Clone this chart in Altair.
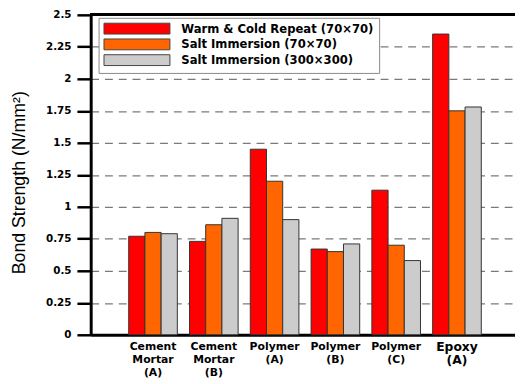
import altair as alt
import pandas as pd

categories = ["Cement Mortar (A)", "Cement Mortar (B)", "Polymer (A)",
              "Polymer (B)", "Polymer (C)", "Epoxy (A)"]
series_names = ["Warm & Cold Repeat (70×70)", "Salt Immersion (70×70)",
                "Salt Immersion (300×300)"]
warm_cold_70 = [0.77, 0.73, 1.45, 0.67, 1.13, 2.35]
salt_70 = [0.80, 0.86, 1.20, 0.65, 0.70, 1.75]
salt_300 = [0.79, 0.91, 0.90, 0.71, 0.58, 1.78]
y_ticks = [0, 0.25, 0.5, 0.75, 1, 1.25, 1.5, 1.75, 2, 2.25, 2.5]
colors = ["#FF0000", "#FF6600", "#CCCCCC"]

rows = []
for s, vals in zip(series_names, [warm_cold_70, salt_70, salt_300]):
    for c, v in zip(categories, vals):
        rows.append({"Material": c, "Series": s, "Value": v})
df = pd.DataFrame(rows)

y_scale = alt.Scale(domain=[0, 2.5], nice=False)
y_axis = alt.Axis(title="Bond Strength (N/mm²)", values=y_ticks,
                  format=".3~g", grid=True, gridDash=[8, 6],
                  gridColor="#7a7a7a", gridWidth=1.3,
                  labelOverlap=False,
                  domainColor="black", domainWidth=3,
                  tickColor="black", tickWidth=2.5, tickSize=14,
                  labelFont="DejaVu Sans", labelFontWeight="bold",
                  labelFontSize=10.5, labelColor="black", labelPadding=6,
                  titleFont="Liberation Sans", titleFontWeight="normal",
                  titleFontSize=18, titleColor="black",
                  titleX=-72, titleY=170, titleAngle=270,
                  titleAlign="center", titleBaseline="middle")

bars = alt.Chart(df).mark_bar(stroke="#333333", strokeWidth=1).encode(
    x=alt.X("Material:N", sort=categories,
            scale=alt.Scale(paddingInner=0.2, paddingOuter=0.59, align=0.53),
            axis=alt.Axis(title=None, labelAngle=0, ticks=False,
                          domainColor="black", domainWidth=3,
                          labelExpr="split(datum.label, ' ')",
                          labelFont="DejaVu Sans", labelFontWeight="bold",
                          labelFontSize={"condition": {"test": "datum.value == 'Epoxy (A)'", "value": 12.5}, "value": 11},
                          labelLineHeight=13, labelPadding=6,
                          labelBaseline="top", labelColor="black")),
    xOffset=alt.XOffset("Series:N", sort=series_names,
                        scale=alt.Scale(paddingInner=0, paddingOuter=0)),
    y=alt.Y("Value:Q", scale=y_scale, axis=y_axis),
    color=alt.Color("Series:N", sort=series_names,
                    scale=alt.Scale(domain=series_names, range=colors),
                    legend=alt.Legend(title=None, orient="none", legendX=8, legendY=3,
                                      fillColor="white", strokeColor="#888888",
                                      padding=5, rowPadding=0,
                                      symbolType="M-1,-1H11.18V1H-1Z",
                                      symbolSize=121, symbolStrokeColor="#444444",
                                      symbolStrokeWidth=1, symbolOpacity=1,
                                      labelFont="DejaVu Sans", labelFontWeight="bold",
                                      labelFontSize=11.8, labelColor="black",
                                      labelOffset=67, labelLimit=400)),
)

top_rule = alt.Chart(df).mark_rule(color="black", strokeWidth=2.5).encode(
    y=alt.YDatum(2.5, scale=y_scale, axis=y_axis)
)

chart = alt.layer(bars, top_rule).properties(
    width=431, height=325,
    padding={"left": 84, "top": 4, "right": 0, "bottom": 46},
    autosize="none",
).configure_view(stroke=None)

chart.save("out.html", embed_options={"renderer": "svg", "actions": False})
